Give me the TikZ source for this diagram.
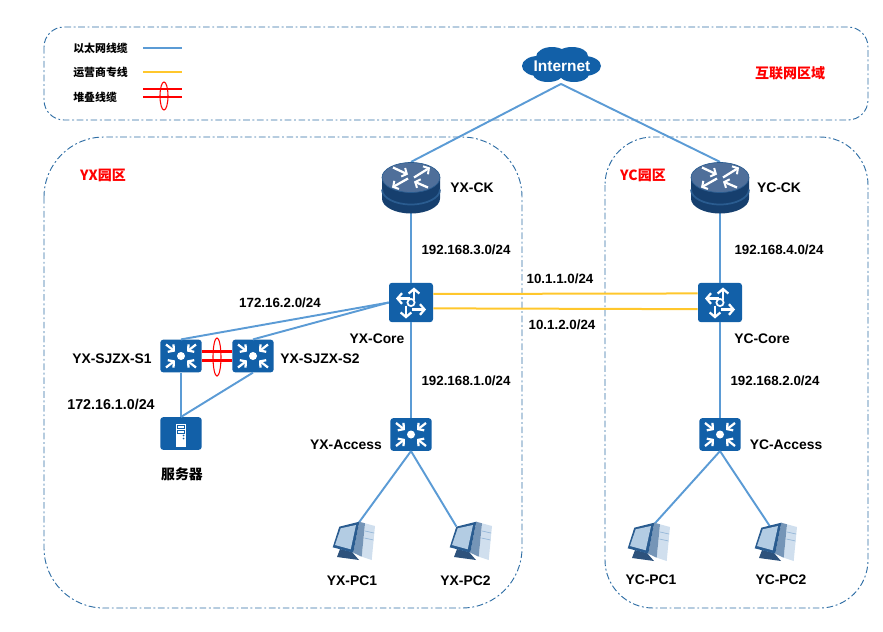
\documentclass[tikz,border=0pt]{standalone}
\usepackage{fontspec}
\setmainfont{Liberation Sans}
\newfontfamily\cjk{Noto Sans CJK SC}
\usetikzlibrary{arrows.meta,shapes.geometric}
\definecolor{iconblue}{HTML}{1260A8}
\definecolor{wire}{HTML}{5B9BD5}
\definecolor{carrier}{HTML}{FFC72C}
\definecolor{zone}{HTML}{2F6EA5}
\definecolor{routertop}{HTML}{4F6F9A}
\definecolor{routerdark}{HTML}{163F6E}
\definecolor{routerband}{HTML}{2A5C90}
\tikzset{
  zonebox/.style={draw=zone,line width=.7pt,dash pattern=on 5pt off 2pt on 1.4pt off 2pt},
  eth/.style={draw=wire,line width=1.45pt},
  isp/.style={draw=carrier,line width=1.5pt},
  stackline/.style={draw=red,line width=2.1pt},
  stackring/.style={draw=red,line width=.8pt},
  lbl/.style={font=\fontsize{10}{12}\bfseries,inner sep=0pt,text=black},
  namelbl/.style={font=\fontsize{10.4}{12}\bfseries,inner sep=0pt,text=black},
  cjklbl/.style={font=\fontsize{8.2}{10}\cjk\bfseries,inner sep=0pt,text=black},
  redlbl/.style={font=\fontsize{10.5}{12}\cjk\bfseries,inner sep=0pt,text=red},
  l3box/.style={fill=iconblue,rounded corners=2.2pt,minimum width=33pt,minimum height=29.5pt,inner sep=0pt},
  l2box/.style={fill=iconblue,rounded corners=2.2pt,minimum width=31pt,minimum height=24.5pt,inner sep=0pt},
  srvbox/.style={fill=iconblue,rounded corners=2.2pt,minimum width=31pt,minimum height=24.5pt,inner sep=0pt},
  rtrbox/.style={minimum width=42pt,minimum height=38pt,inner sep=0pt},
  pcbox/.style={minimum width=31.5pt,minimum height=30pt,inner sep=0pt},
  glyph/.style={draw=white,line width=1.7pt},
  barb/.style={-{Straight Barb[length=3pt,width=7pt,line width=1.7pt]}},
  wide/.style={-{Straight Barb[length=3.4pt,width=8pt,line width=1.7pt]}},
  head/.style={-{Straight Barb[length=3pt,width=7pt,line width=1.5pt]}},
  pics/l3glyph/.style={code={
    \draw[glyph,wide] (3,-3) -- (3,-15);
    \draw[glyph,wide] (-1,-4) -- (-15,-4);
    \draw[glyph,wide] (1,7) -- (15,7);
    \draw[glyph,wide] (-5,3) -- (-5,16);
    \draw[draw=white,line width=1.3pt,fill=iconblue] (0,0) circle[radius=3.6];
  }},
  pics/l2glyph/.style={code={
    \foreach \sx/\sy in {1/1,1/-1,-1/1,-1/-1}{
      \draw[glyph,barb] (15*\sx,11.5*\sy) -- (6*\sx,4.5*\sy);
    }
    \fill[white] (0,0) circle[radius=4];
  }},
  pics/srvglyph/.style={code={
    \fill[white] (-5,-10) rectangle (5,13);
    \draw[iconblue,line width=.6pt] (-3.6,-8) rectangle (3.6,-5);
    \draw[iconblue,line width=.6pt] (-3.6,-3.4) rectangle (3.6,-.4);
    \fill[iconblue] (2.6,2) circle[radius=.9] (2.6,5) circle[radius=.9];
  }},
  pics/rtrglyph/.style={code={
    \fill[routerdark] (-29,-10) -- (-29,11) arc[x radius=29,y radius=15,start angle=180,end angle=0] -- (29,-10) -- cycle;
    \draw[routerband,line width=1.3pt] (-29,2) arc[x radius=29,y radius=15,start angle=180,end angle=0];
    \fill[routertop] (0,-10) ellipse[x radius=29,y radius=15];
    \draw[routerband,line width=.5pt] (0,-10) ellipse[x radius=29,y radius=15];
    \draw[glyph,head] (3,-10) -- (19,-20);
    \draw[glyph,head] (-3,-9) -- (-19,0);
    \draw[glyph,head] (-18,-20) -- (-3,-13);
    \draw[glyph,head] (17,0) -- (3,-6);
  }},
  pics/pcglyph/.style={code={
    \fill[iconblue!20!white] (11,-16.7) -- (21,-14) -- (17.7,20) -- (7.7,16.7) -- cycle;
    \draw[iconblue!45!white,line width=.5pt] (11,-9) -- (20,-7) (10.5,-2) -- (19.5,0);
    \fill[routerband!65!white] (5.3,-18.3) -- (11,-16.7) -- (7.7,16.7) -- (-.7,12.7) -- cycle;
    \fill[routerdark!90!white] (-14,9) -- (-2,12) -- (5,20) -- (-17,17) -- cycle;
    \fill[routerband] (-14.7,-13.3) -- (5.3,-18.3) -- (-.7,12.7) -- (-21.3,7.3) -- cycle;
    \fill[iconblue!32!white] (-13.3,-11.7) -- (2,-15) -- (-3.3,9.3) -- (-19,5) -- cycle;
  }},
}
\begin{document}
\begin{tikzpicture}[x=.75pt,y=-.75pt]
\useasboundingbox (0,0) rectangle (883,632);

% zones
\draw[zonebox,rounded corners=15pt] (44,27) rectangle (868,120);
\draw[zonebox,rounded corners=45pt] (44,137) rectangle (522,608);
\draw[zonebox,rounded corners=36pt] (605,137) rectangle (868,608);

% device placeholders, so that the wires can be laid under the icons
\node[rtrbox] (inet) at (561,65) [minimum width=60pt,minimum height=28pt] {};
\node[rtrbox] (yxck) at (411,187.5) {};
\node[rtrbox] (ycck) at (720,187.5) {};
\node[l3box] (yxcore) at (411,302.5) {};
\node[l3box] (yccore) at (720,302.5) {};
\node[l2box] (yxacc) at (411,434.5) {};
\node[l2box] (ycacc) at (720,434.5) {};
\node[l2box] (s1) at (181,356) {};
\node[l2box] (s2) at (253,356) {};
\node[srvbox] (srv) at (181,433.5) {};
\node[pcbox] (yxpc1) at (354,540) {};
\node[pcbox] (yxpc2) at (471,540) {};
\node[pcbox] (ycpc1) at (649,541) {};
\node[pcbox] (ycpc2) at (776,541) {};

% ethernet links
\draw[eth] (inet.south) -- (yxck.north);
\draw[eth] (inet.south) -- (ycck.north);
\draw[eth] (yxck.south) -- (yxcore.north);
\draw[eth] (ycck.south) -- (yccore.north);
\draw[eth] (yxcore.south) -- (yxacc.north);
\draw[eth] (yccore.south) -- (ycacc.north);
\draw[eth] (yxcore.west) -- (s1.north);
\draw[eth] (yxcore.west) -- (s2.north);
\draw[eth] (s1.south) -- (srv.north);
\draw[eth] (s2.south) -- (srv.north);
\draw[eth] (yxacc.south) -- ([xshift=3pt,yshift=-3pt]yxpc1.north);
\draw[eth] (yxacc.south) -- ([xshift=-11pt,yshift=-5pt]yxpc2.north);
\draw[eth] (ycacc.south) -- ([xshift=3.5pt,yshift=-3pt]ycpc1.north);
\draw[eth] (ycacc.south) -- ([xshift=-4pt,yshift=-5pt]ycpc2.north);

% carrier links between the two sites
\draw[isp] ([yshift=6.4pt]yxcore.east) -- ([yshift=6.8pt]yccore.west);
\draw[isp] ([yshift=-4.4pt]yxcore.east) -- ([yshift=-5pt]yccore.west);

% stack between the two aggregation switches
\draw[stackline] ([yshift=3.2pt]s1.east) -- ([yshift=3.2pt]s2.west);
\draw[stackline] ([yshift=-3.6pt]s1.east) -- ([yshift=-3.6pt]s2.west);
\node[stackring,ellipse,minimum width=6pt,minimum height=28.5pt,inner sep=0pt] (ring) at (217,357) {};

% device icons
\fill[iconblue]
  (561,65) ellipse[x radius=28,y radius=13]
  (538,66) ellipse[x radius=16,y radius=10]
  (584,66) ellipse[x radius=17,y radius=10]
  (552,57) ellipse[x radius=16,y radius=10]
  (572,56) ellipse[x radius=16,y radius=9]
  (548,74) ellipse[x radius=15,y radius=8]
  (574,74) ellipse[x radius=15,y radius=8];
\node[font=\fontsize{11.6}{12}\bfseries,text=white,inner sep=0pt] (inettext) at (562,66.5) {Internet};
\pic at (yxck) {rtrglyph};
\pic at (ycck) {rtrglyph};
\pic at (yxcore) {l3glyph};
\pic at (yccore) {l3glyph};
\pic at (yxacc) {l2glyph};
\pic at (ycacc) {l2glyph};
\pic at (s1) {l2glyph};
\pic at (s2) {l2glyph};
\pic at (srv) {srvglyph};
\pic at (yxpc1) {pcglyph};
\pic at (yxpc2) {pcglyph};
\pic at (ycpc1) {pcglyph};
\pic at (ycpc2) {pcglyph};

% legend
\node[cjklbl,anchor=west] (lg1) at (73,48) {以太网线缆};
\node[cjklbl,anchor=west] (lg2) at (73,72) {运营商专线};
\node[cjklbl,anchor=west] (lg3) at (73,97) {堆叠线缆};
\coordinate (lga) at (143,48); \coordinate (lgb) at (182,48);
\coordinate (lgc) at (143,72); \coordinate (lgd) at (182,72);
\coordinate (lge) at (143,89); \coordinate (lgf) at (182,89);
\coordinate (lgg) at (143,97); \coordinate (lgh) at (182,97);
\draw[eth] (lga) -- (lgb);
\draw[isp] (lgc) -- (lgd);
\draw[stackline] (lge) -- (lgf);
\draw[stackline] (lgg) -- (lgh);
\draw[stackring] (164,96) ellipse[x radius=4,y radius=14];

% zone titles
\node[redlbl] (tinet) at (790,73.5) {互联网区域};
\node[redlbl] (tyx) at (103,175.5) {YX园区};
\node[redlbl] (tyc) at (643,175.5) {YC园区};

% device names and subnets
\node[namelbl] (n1) at (472,188) {YX-CK};
\node[namelbl] (n2) at (779,188) {YC-CK};
\node[lbl] (n3) at (466,250) {192.168.3.0/24};
\node[lbl] (n4) at (779,250) {192.168.4.0/24};
\node[lbl] (n5) at (280,303) {172.16.2.0/24};
\node[lbl] (n6) at (560,279) {10.1.1.0/24};
\node[lbl] (n7) at (562,325) {10.1.2.0/24};
\node[namelbl] (n8) at (377,339) {YX-Core};
\node[namelbl] (n9) at (762,339) {YC-Core};
\node[namelbl] (n10) at (112,359) {YX-SJZX-S1};
\node[namelbl] (n11) at (320,359) {YX-SJZX-S2};
\node[lbl] (n12) at (466,381) {192.168.1.0/24};
\node[lbl] (n13) at (775,381) {192.168.2.0/24};
\node[lbl,font=\fontsize{10.7}{12}\bfseries] (n14) at (111,404) {172.16.1.0/24};
\node[namelbl] (n15) at (346,445) {YX-Access};
\node[namelbl] (n16) at (786,445) {YC-Access};
\node[lbl,font=\fontsize{10.4}{12}\cjk\bfseries] (n17) at (182,474) {服务器};
\node[namelbl] (n18) at (352,581) {YX-PC1};
\node[namelbl] (n19) at (465.5,581) {YX-PC2};
\node[namelbl] (n20) at (651,580) {YC-PC1};
\node[namelbl] (n21) at (781,580) {YC-PC2};
\end{tikzpicture}
\end{document}
